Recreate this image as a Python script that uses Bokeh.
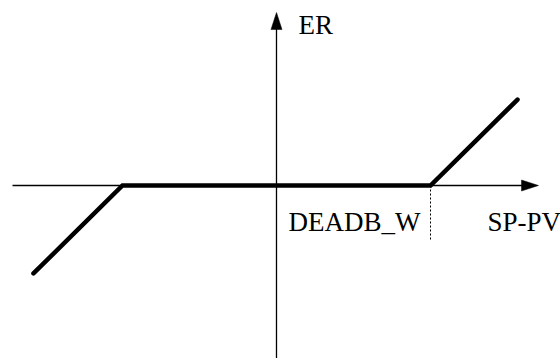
from bokeh.plotting import figure
from bokeh.models import Range1d
from bokeh.core.properties import value
from bokeh.embed import file_html
from bokeh.resources import INLINE

# Dead-band characteristic (units of DEADB_W)
sp_pv = [-1.578, -1.0, 1.0, 1.565]
er = [-0.571, 0.0, 0.0, 0.558]
deadband_w = 1.0

# axis extents
x_axis_min, x_axis_max = -1.714, 1.701
y_axis_min, y_axis_max = -1.123, 1.123

x_label = "SP-PV"
y_label = "ER"
db_label = "DEADB_W"

FONT = value("Liberation Serif")
PX = 154.0  # pixels per data unit

p = figure(width=560, height=358, output_backend="svg", toolbar_location=None,
           x_range=Range1d(-1.792, 1.844), y_range=Range1d(-1.123, 1.201),
           min_border=0, outline_line_color=None)
p.axis.visible = False
p.grid.visible = False
p.background_fill_color = "white"
p.border_fill_color = "white"

# axes lines
p.line([x_axis_min, x_axis_max - 10 / PX], [0, 0], line_color="black", line_width=1.3)
p.line([0, 0], [y_axis_min, y_axis_max - 10 / PX], line_color="black", line_width=1.3)

# arrowheads
hl, hw = 17 / PX, 5.5 / PX
p.patch([x_axis_max, x_axis_max - hl, x_axis_max - hl],
        [0, hw, -hw], color="black", line_width=0.5)
p.patch([0, -hw, hw],
        [y_axis_max, y_axis_max - hl, y_axis_max - hl], color="black", line_width=0.5)

# dead-band marker
p.line([deadband_w, deadband_w], [0, -0.357], line_color="black", line_width=1, line_dash="2 2")

# characteristic
p.line(sp_pv, er, line_color="black", line_width=4.5, line_join="miter", line_cap="round")

# labels
p.text(x=[0.143], y=[1.039], text=[y_label], text_font=FONT, text_font_size="27px",
       text_baseline="alphabetic", text_align="left", text_color="black")
p.text(x=[0.935], y=[-0.234], text=[db_label], text_font=FONT, text_font_size="27px",
       text_baseline="alphabetic", text_align="right", text_color="black")
p.text(x=[1.370], y=[-0.234], text=[x_label], text_font=FONT, text_font_size="27px",
       text_baseline="alphabetic", text_align="left", text_color="black")

open("out.html", "w").write(file_html(p, INLINE))
